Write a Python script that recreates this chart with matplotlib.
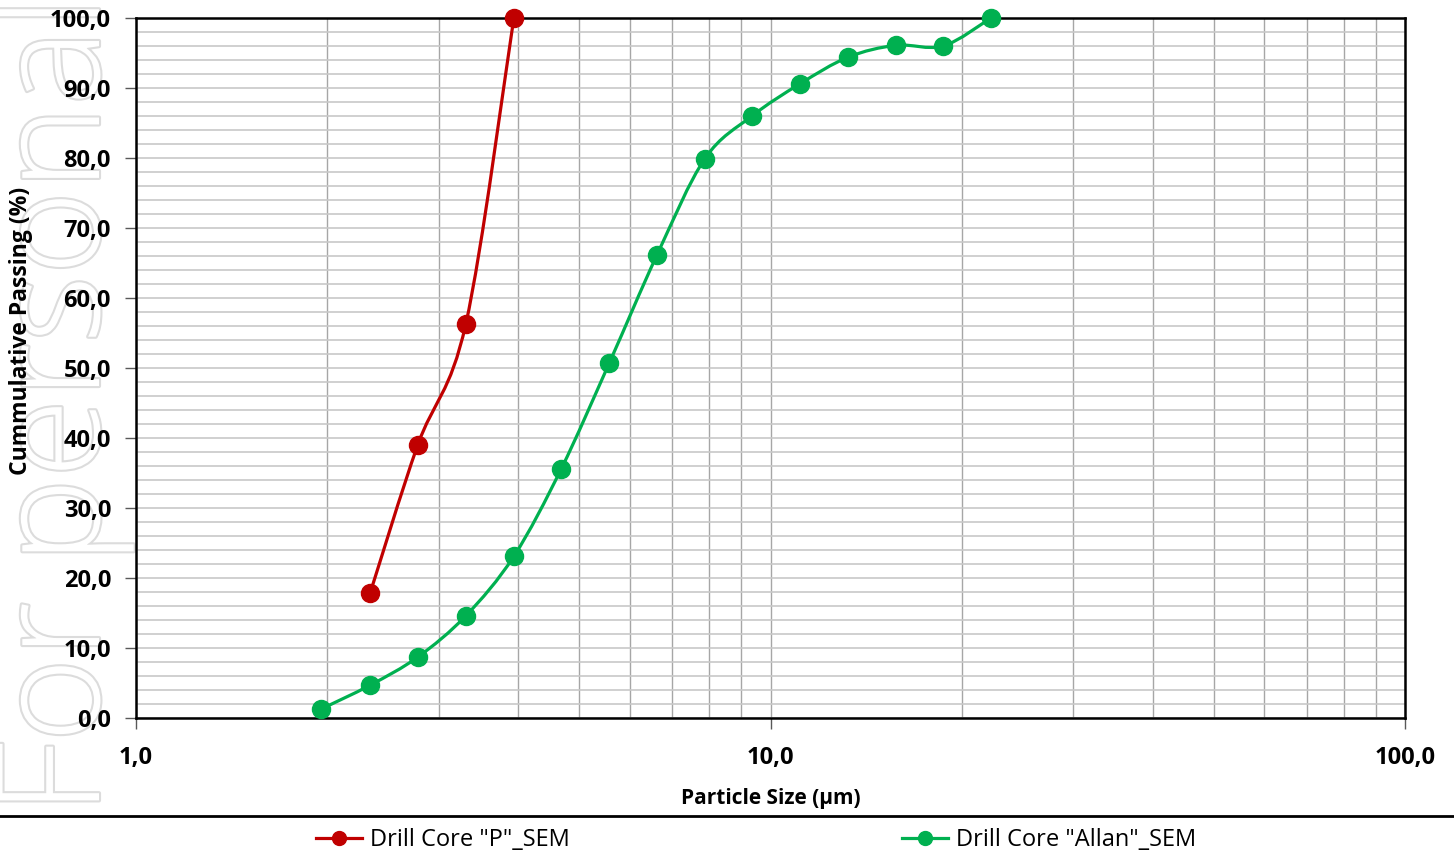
import numpy as np
import matplotlib
matplotlib.use('Agg')
import matplotlib.pyplot as plt
from matplotlib.path import Path
from matplotlib.patches import PathPatch
from matplotlib.lines import Line2D
from matplotlib.ticker import FixedLocator, FuncFormatter, MultipleLocator
import matplotlib.patheffects as pe

plt.rcParams['font.family'] = ['Open Sans', 'DejaVu Sans']

# particle size (um) and cumulative passing (%)
p_size = [2.34, 2.78, 3.31, 3.94]
p_pass = [17.9, 39.0, 56.3, 100.0]
allan_size = [1.96, 2.34, 2.78, 3.31, 3.94, 4.68, 5.57, 6.62, 7.88, 9.35,
              11.13, 13.25, 15.77, 18.71, 22.26]
allan_pass = [1.3, 4.7, 8.7, 14.6, 23.1, 35.6, 50.7, 66.1, 79.9, 86.0,
              90.6, 94.4, 96.1, 96.0, 100.0]

red = '#c00000'
green = '#00b050'


def smooth_path(xs, ys):
    # Excel-like smoothed line: cubic bezier through the points in log-x space
    pts = np.column_stack([np.log10(xs), ys])
    n = len(pts)
    verts = [pts[0]]
    codes = [Path.MOVETO]
    for i in range(n - 1):
        p0 = pts[i - 1] if i > 0 else pts[i]
        p3 = pts[i + 2] if i + 2 < n else pts[i + 1]
        c1 = pts[i] + (pts[i + 1] - p0) / 6
        c2 = pts[i + 1] - (p3 - pts[i]) / 6
        verts += [c1, c2, pts[i + 1]]
        codes += [Path.CURVE4] * 3
    verts = np.array(verts)
    verts[:, 0] = 10 ** verts[:, 0]
    return Path(verts, codes)


fig = plt.figure(figsize=(14.54, 8.55), dpi=100)
ax = fig.add_axes([136 / 1454, 1 - 718 / 855, 1269 / 1454, 700 / 855])

# watermark
fig.text(134 / 1454, 1 - 815 / 855, 'For personal use only', rotation=90,
         ha='right', va='bottom', fontsize=104, fontweight='light',
         color='white', zorder=-1,
         path_effects=[pe.Stroke(linewidth=3, foreground='#dcdcdc'), pe.Normal()])

ax.set_xscale('log')
ax.set_xlim(1, 100)
ax.set_ylim(0, 100)

for xs, ys, c in [(p_size, p_pass, red), (allan_size, allan_pass, green)]:
    ax.add_patch(PathPatch(smooth_path(xs, ys), fill=False, edgecolor=c,
                           lw=2.3, zorder=3, capstyle='round'))
    ax.plot(xs, ys, ls='none', marker='o', ms=13, color=c, zorder=4,
            clip_on=False)

ax.xaxis.set_major_locator(FixedLocator([1, 10, 100]))
ax.xaxis.set_minor_locator(FixedLocator(
    [m * d for d in (1, 10) for m in range(2, 10)]))
ax.yaxis.set_major_locator(MultipleLocator(10))
ax.yaxis.set_minor_locator(MultipleLocator(2))
fmt = FuncFormatter(lambda v, p: f'{v:.1f}'.replace('.', ','))
ax.xaxis.set_major_formatter(fmt)
ax.yaxis.set_major_formatter(fmt)
ax.xaxis.set_minor_formatter(FuncFormatter(lambda v, p: ''))

ax.grid(which='both', axis='x', color='#a6a6a6', lw=1)
ax.grid(which='both', axis='y', color='#c8c8c8', lw=1.2)
ax.set_axisbelow(True)
ax.tick_params(which='minor', length=0)
ax.tick_params(which='major', length=8, width=1, color='#595959')
ax.tick_params(axis='x', pad=12, labelsize=17)
ax.tick_params(axis='y', pad=10, labelsize=17)
for lab in ax.get_xticklabels() + ax.get_yticklabels():
    lab.set_fontweight('bold')
for s in ax.spines.values():
    s.set_linewidth(1.8)
    s.set_color('black')

ax.set_xlabel('Particle Size (µm)', fontsize=15, fontweight='bold', labelpad=13)
ax.set_ylabel('Cummulative Passing (%)', fontsize=16.5, fontweight='bold')
ax.yaxis.set_label_coords(-0.081, 0.553)

fig.add_artist(Line2D([0, 1], [1 - 816 / 855] * 2, color='black', lw=2,
                      transform=fig.transFigure))

handles = [Line2D([], [], color=red, lw=2.3, marker='o', ms=10),
           Line2D([], [], color=green, lw=2.3, marker='o', ms=10)]
fig.legend(handles, ['Drill Core "P"_SEM', 'Drill Core "Allan"_SEM'],
           loc='center', bbox_to_anchor=(0.52, 1 - 840 / 855), ncol=2,
           frameon=False, fontsize=17, handlelength=1.95, handletextpad=0.34,
           columnspacing=14.1)

fig.savefig('out.png', dpi=100)
